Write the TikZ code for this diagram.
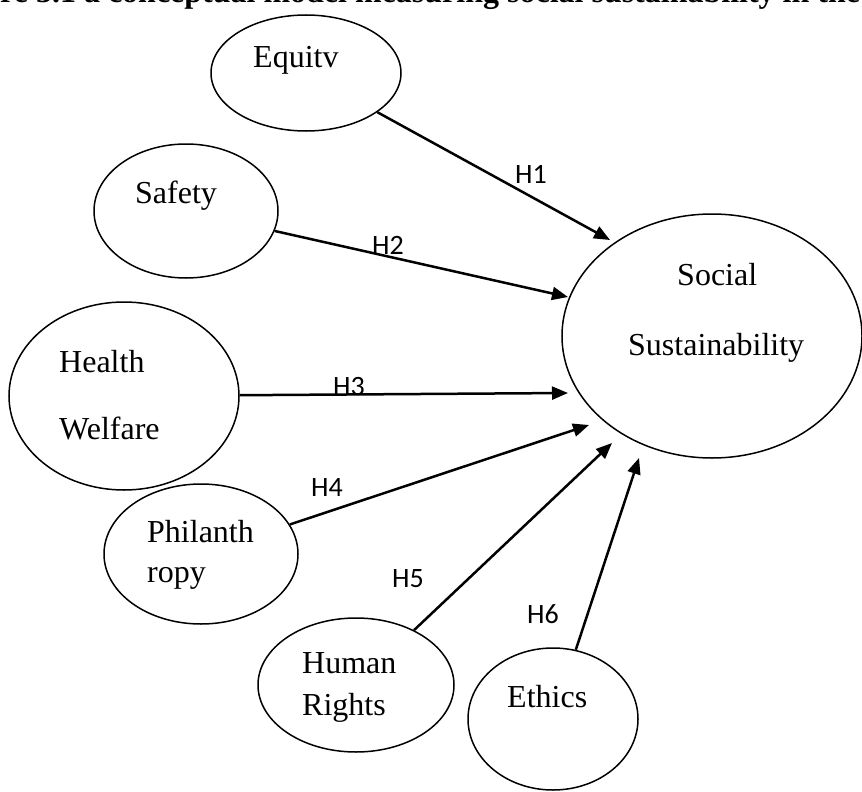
\documentclass[tikz,border=0pt]{standalone}
\usepackage{fontspec}
\setmainfont{Liberation Serif}
\newfontfamily\hypfont{Carlito}
\usetikzlibrary{shapes.geometric,arrows.meta}

\begin{document}
\begin{tikzpicture}[x=1pt,y=-1pt,
  blob/.style={draw,ellipse,line width=1.5pt,inner sep=0pt},
  word/.style={anchor=base west,inner sep=0pt,font=\fontsize{32}{38}\selectfont},
  hyp/.style={anchor=center,inner sep=0pt,font=\hypfont\fontsize{28}{32}\selectfont},
  link/.style={line width=2.5pt,-{Triangle[length=16pt,width=13pt]}}]
\useasboundingbox (0,0) rectangle (862,792);
\clip (0,0) rectangle (862,792);

% caption line, partly cut off at the top edge
\node[anchor=base west,inner sep=0pt,font=\bfseries\fontsize{32}{38}\selectfont] (cap) at (0,3)
  {re 3.1 a conceptual model measuring social sustainability in the};

% constructs
\node[blob,minimum width=190pt,minimum height=116pt] (equ) at (306,73) {};
\node[blob,minimum width=184pt,minimum height=134pt] (saf) at (186,211) {};
\node[blob,minimum width=230pt,minimum height=188pt] (hw) at (124,396) {};
\node[blob,minimum width=194pt,minimum height=140pt] (phil) at (201,554) {};
\node[blob,minimum width=196pt,minimum height=134pt] (hr) at (356,685) {};
\node[blob,minimum width=170pt,minimum height=142pt] (eth) at (553,719) {};
\node[blob,minimum width=300pt,minimum height=244pt] (soc) at (712,336) {};

% construct names
\node[word] (tequ) at (253,67) {Equitv};
\node[word] (tsaf) at (135,203) {Safety};
\node[word] (thw1) at (59,372) {Health};
\node[word] (thw2) at (59,439) {Welfare};
\node[word] (tph1) at (147,542) {Philanth};
\node[word] (tph2) at (147,582) {ropy};
\node[word] (thr1) at (302,673) {Human};
\node[word] (thr2) at (302,715) {Rights};
\node[word] (teth) at (507,707) {Ethics};
\node[word] (tsoc1) at (677,285) {Social};
\node[word] (tsoc2) at (628,355) {Sustainability};

% arrow heads stop short of the outcome ellipse
\coordinate (t1) at (610,240);
\coordinate (t2) at (568,297);
\coordinate (t3) at (568,393);
\coordinate (t4) at (589,425);
\coordinate (t5) at (612,443);
\coordinate (t6) at (639,458);

\draw[link] (equ) -- (t1);
\draw[link] (saf) -- (t2);
\draw[link] (hw) -- (t3);
\draw[link] (phil) -- (t4);
\draw[link] (hr) -- (t5);
\draw[link] (eth) -- (t6);

% hypothesis labels
\node[hyp] (h1) at (531,174) {H1};
\node[hyp] (h2) at (388,245) {H2};
\node[hyp] (h3) at (349,387) {H3};
\node[hyp] (h4) at (327,488) {H4};
\node[hyp] (h5) at (408,579) {H5};
\node[hyp] (h6) at (543,614) {H6};
\end{tikzpicture}
\end{document}
